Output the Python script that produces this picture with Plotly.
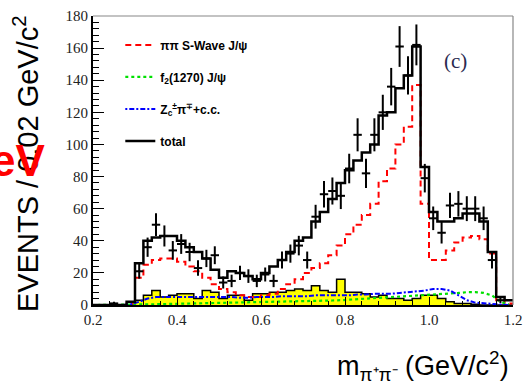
import plotly.graph_objects as go

# ---------------- data ----------------
bin_edges_left = [round(0.20 + 0.02 * i, 2) for i in range(50)]
bin_width = 0.02

total = [0, 0, 0, 0, 2, 26, 40, 42, 43, 43, 40, 36, 33, 29, 22, 17, 21, 20, 18, 16,
         20, 24, 28, 33, 40, 42, 52, 58, 66, 76, 84, 90, 95, 100, 118, 120, 135, 143, 161, 86,
         58, 52, 52, 54, 57, 57, 52, 33, 5, 3]

s_wave = [0, 0, 0, 0, 1, 17, 25, 28, 29, 29, 27, 24, 21, 17, 13, 10, 8, 6, 5, 5,
          6, 7, 10, 13, 16, 20, 23, 26, 31, 37, 44, 50, 56, 63, 77, 85, 100, 111, 137, 63,
          28, 28, 34, 39, 42, 43, 41, 32, 3, 1]

f2_1270 = [0, 0, 0, 0, 0.1, 0.3, 0.4, 0.5, 0.6, 0.7, 0.8, 0.9, 1.0, 1.0, 1.1, 1.2, 1.3, 1.4, 1.5, 1.5,
           1.6, 1.7, 1.8, 1.9, 2.0, 2.2, 2.4, 2.6, 2.8, 3.0, 3.3, 3.6, 3.9, 4.2, 4.5, 4.8, 5.0, 5.3, 5.6, 5.9,
           6.2, 6.6, 7.0, 7.5, 8.0, 8.0, 7.5, 6.0, 2.0, 0.5]

zc_pi = [0, 0, 0, 0, 0.5, 2, 4, 5, 5, 5, 5, 5, 5, 5, 5, 5, 5, 4.5, 4.5, 5,
         5, 5, 5.5, 5.5, 5.5, 5.5, 6, 6, 6, 6, 6, 6.5, 6.5, 7, 7, 7, 7.5, 8, 8.5, 9,
         10, 10, 9, 6, 3, 1.5, 1, 0.5, 0.3, 0]

background = [0, 0, 0, 0, 0, 3, 6, 9, 5, 6, 7, 7, 4, 9, 8, 4, 6, 6, 3, 7,
              7, 8, 8, 9, 10, 9, 12, 9, 8, 16, 8, 8, 7, 5, 6, 4, 4, 3, 4, 6,
              6, 4, 2, 1, 1, 0.5, 0, 0, 0, 0]

data_x = [0.25, 0.31, 0.33, 0.35, 0.37, 0.39, 0.41, 0.43, 0.45, 0.47, 0.49, 0.51, 0.53, 0.55,
          0.57, 0.59, 0.61, 0.63, 0.65, 0.67, 0.69, 0.71, 0.73, 0.75, 0.77, 0.79, 0.81, 0.83,
          0.85, 0.87, 0.89, 0.91, 0.93, 0.95, 0.97, 0.99, 1.01, 1.03, 1.05, 1.07, 1.09, 1.11,
          1.13, 1.15, 1.17]
data_y = [1, 21, 36, 50, 43, 34, 38, 33, 23, 29, 31, 14, 15, 20,
          18, 15, 19, 15, 28, 32, 37, 28, 55, 69, 71, 68, 85, 106,
          82, 106, 120, 136, 161, 143, 162, 79, 54, 45, 62, 63, 60, 60,
          54, 28, 3]

legend_labels = ["ππ S-Wave J/ψ", "f<sub>2</sub>(1270) J/ψ",
                 "Z<sub>c</sub><sup>±</sup>π<sup>∓</sup>+c.c.", "total"]
x_ticks = [0.2, 0.4, 0.6, 0.8, 1.0, 1.2]
y_ticks = [0, 20, 40, 60, 80, 100, 120, 140, 160, 180]


def step(vals):
    xs = bin_edges_left + [round(bin_edges_left[-1] + bin_width, 2)]
    ys = list(vals) + [vals[-1]]
    return xs, ys


centers = [round(e + bin_width / 2, 3) for e in bin_edges_left]

fig = go.Figure()

# background (yellow filled)
bx, by = step(background)
fig.add_trace(go.Scatter(x=bx, y=by, mode="lines", line=dict(shape="hv", color="black", width=1.5),
                         fill="tozeroy", fillcolor="#ffff00", showlegend=False, hoverinfo="skip"))

# S-wave
sx, sy = step(s_wave)
fig.add_trace(go.Scatter(x=sx, y=sy, mode="lines", name="<b>" + legend_labels[0] + "</b>", legendgroup="a",
                         line=dict(shape="hv", color="#ff0000", width=2, dash="6px,4px")))
# f2(1270)
fig.add_trace(go.Scatter(x=centers, y=f2_1270, mode="lines", name="<b>" + legend_labels[1] + "</b>", legendgroup="b",
                         line=dict(color="#00e000", width=2.2, dash="3px,3px")))
# Zc pi
fig.add_trace(go.Scatter(x=centers, y=zc_pi, mode="lines", name="<b>" + legend_labels[2] + "</b>", legendgroup="c",
                         line=dict(color="#0000ff", width=2, dash="2px,2px,5px,2px")))
# total
tx, ty = step(total)
fig.add_trace(go.Scatter(x=tx, y=ty, mode="lines", name="<b>" + legend_labels[3] + "</b>", legendgroup="d",
                         line=dict(shape="hv", color="black", width=2.5)))

# data
fig.add_trace(go.Scatter(
    x=data_x, y=data_y, mode="markers", showlegend=False,
    marker=dict(size=2, color="black"),
    error_y=dict(type="data", array=[max(v, 1) ** 0.5 for v in data_y], color="black", thickness=2, width=0),
    error_x=dict(type="constant", value=bin_width / 2, color="black", thickness=2, width=0),
))

fig.update_layout(
    width=530, height=385,
    margin=dict(l=93, r=8, t=13, b=80),
    paper_bgcolor="white", plot_bgcolor="white",
    showlegend=True,
    legend=dict(x=0.065, y=0.95, xanchor="left", yanchor="top",
                bgcolor="rgba(255,255,255,0)", tracegroupgap=13,
                font=dict(family="Liberation Sans", size=12, color="black"),
                itemwidth=30),
    xaxis=dict(range=[0.2, 1.2], tickvals=x_ticks, ticktext=[f"{v:.1f}" for v in x_ticks],
               showgrid=False, zeroline=False, showline=True, linecolor="black", linewidth=1.5,
               ticks="inside", ticklen=8, tickwidth=1, tickcolor="black",
               ticklabeloverflow="allow",
               minor=dict(ticks="inside", dtick=0.04, ticklen=4, tickcolor="black"),
               tickfont=dict(family="Liberation Serif", size=15, color="#222")),
    yaxis=dict(range=[0, 180], tickvals=y_ticks,
               showgrid=False, zeroline=False, showline=True, linecolor="black", linewidth=2,
               ticks="inside", ticklen=11, tickwidth=1.2, tickcolor="black",
               minor=dict(ticks="inside", dtick=4, ticklen=6, tickcolor="black"),
               tickfont=dict(family="Liberation Serif", size=15, color="#222")),
    shapes=[
        dict(type="line", xref="paper", yref="paper", x0=0, x1=1, y0=1, y1=1,
             line=dict(color="#888888", width=1.2)),
        dict(type="line", xref="paper", yref="paper", x0=1, x1=1, y0=0, y1=1,
             line=dict(color="#888888", width=1.2)),
    ],
    annotations=[
        dict(text="EVENTS / 0.02 GeV/c<sup>2</sup>", xref="paper", yref="paper",
             x=-0.158, y=0.49, xanchor="center", yanchor="middle", textangle=-90,
             showarrow=False, font=dict(family="Liberation Sans", size=29, color="black")),
        dict(text="<b>eV</b>", xref="paper", yref="paper", x=-0.11, y=0.5,
             xanchor="right", yanchor="middle", showarrow=False,
             font=dict(family="Liberation Sans", size=44, color="#ff0000")),
        dict(text="m<sub>π⁺π⁻</sub> (GeV/c<sup>2</sup>)", xref="paper", yref="paper",
             x=0.995, y=-0.21, xanchor="right", yanchor="middle", showarrow=False,
             font=dict(family="Liberation Sans", size=27, color="black")),
        dict(text="(c)", xref="paper", yref="paper", x=0.862, y=0.845,
             xanchor="center", yanchor="middle", showarrow=False,
             font=dict(family="Liberation Serif", size=21, color="#2a2a50")),
    ],
)

fig.write_html("out.html", config={"displayModeBar": False},
               post_script="document.body.style.margin='0';")
